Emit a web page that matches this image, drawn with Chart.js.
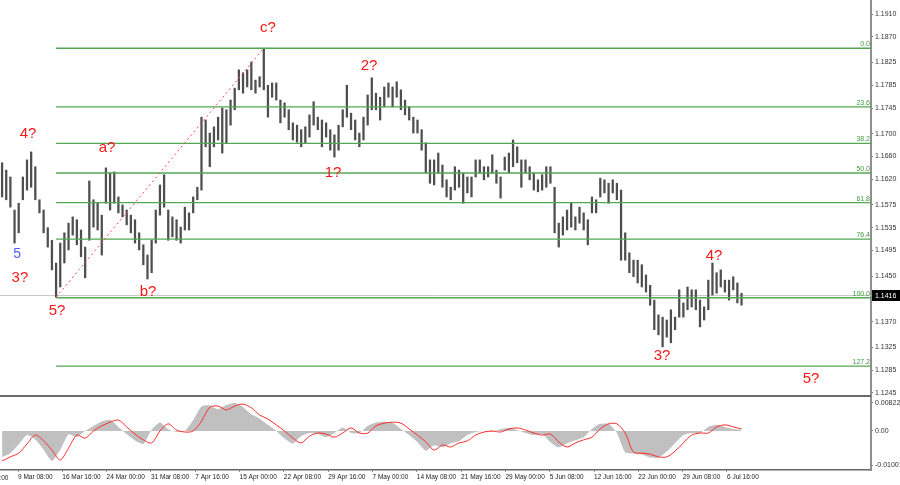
<!DOCTYPE html>
<html><head><meta charset="utf-8">
<script src="https://cdn.jsdelivr.net/npm/chart.js@4/dist/chart.umd.min.js"></script>
<style>
html,body{margin:0;padding:0;background:#fff;}
#wrap{position:relative;width:900px;height:485px;overflow:hidden;background:#fff;}
#c1{position:absolute;left:0;top:0;}
#c2{position:absolute;left:0;top:397px;}
</style></head><body>
<div id="wrap"><canvas id="c1" width="900" height="397"></canvas><canvas id="c2" width="900" height="88"></canvas></div>
<script>
// ---- data (12-hour bars: high / low) ----
const barHighs = [
1.1649,1.1636,1.1624,1.1566,1.1578,1.1624,1.1654,1.1668,1.1642,1.1584,
1.1566,1.1535,1.1513,1.1473,1.1508,1.1526,1.1543,1.1554,1.1549,1.1531,
1.1501,1.1617,1.1584,1.1578,1.1557,1.1640,1.1631,1.1633,1.1589,1.1575,
1.1566,1.1557,1.1549,1.1526,1.1505,1.1487,1.1513,1.1566,1.1610,1.1628,
1.1566,1.1554,1.1549,1.1536,1.1571,1.1561,1.1589,1.1606,1.1729,1.1724,
1.1701,1.1712,1.1729,1.1745,1.1742,1.1759,1.1780,1.1812,1.1807,1.1812,
1.1826,1.1794,1.1800,1.1850,1.1785,1.1789,1.1789,1.1759,1.1754,1.1742,
1.1719,1.1715,1.1707,1.1712,1.1733,1.1756,1.1729,1.1724,1.1719,1.1707,
1.1698,1.1715,1.1742,1.1785,1.1736,1.1724,1.1701,1.1729,1.1768,1.1798,
1.1771,1.1764,1.1782,1.1789,1.1782,1.1791,1.1777,1.1759,1.1747,1.1729,
1.1724,1.1707,1.1684,1.1654,1.1654,1.1666,1.1645,1.1619,1.1606,1.1642,
1.1636,1.1631,1.1624,1.1624,1.1654,1.1654,1.1642,1.1642,1.1663,1.1636,
1.1624,1.1659,1.1666,1.1689,1.1677,1.1654,1.1654,1.1642,1.1631,1.1619,
1.1628,1.1642,1.1642,1.1606,1.1543,1.1554,1.1566,1.1578,1.1554,1.1571,
1.1561,1.1549,1.1589,1.1584,1.1622,1.1619,1.1613,1.1619,1.1613,1.1601,
1.1526,1.1491,1.1478,1.1478,1.1470,1.1452,1.1434,1.1408,1.1382,1.1378,
1.1373,1.1391,1.1378,1.1426,1.1403,1.1431,1.1426,1.1426,1.1408,1.1396,
1.1443,1.1473,1.1456,1.1461,1.1443,1.1443,1.1449,1.1438,1.1420];
const barLows = [
1.1589,1.1584,1.1571,1.1508,1.1526,1.1584,1.1601,1.1606,1.1584,1.1561,
1.1526,1.1501,1.1461,1.1413,1.1431,1.1473,1.1496,1.1522,1.1505,1.1484,
1.1447,1.1513,1.1536,1.1531,1.1487,1.1578,1.1566,1.1578,1.1561,1.1554,
1.1540,1.1526,1.1508,1.1496,1.1470,1.1445,1.1456,1.1508,1.1557,1.1571,
1.1513,1.1519,1.1513,1.1508,1.1531,1.1531,1.1561,1.1584,1.1601,1.1677,
1.1642,1.1677,1.1689,1.1666,1.1684,1.1715,1.1742,1.1777,1.1771,1.1782,
1.1777,1.1771,1.1782,1.1777,1.1729,1.1764,1.1759,1.1719,1.1729,1.1707,
1.1689,1.1685,1.1677,1.1684,1.1694,1.1715,1.1707,1.1677,1.1694,1.1671,
1.1659,1.1671,1.1712,1.1729,1.1707,1.1689,1.1677,1.1689,1.1715,1.1742,
1.1742,1.1724,1.1747,1.1764,1.1747,1.1764,1.1742,1.1733,1.1724,1.1701,
1.1701,1.1671,1.1631,1.1613,1.1610,1.1631,1.1606,1.1589,1.1584,1.1601,
1.1606,1.1578,1.1596,1.1589,1.1624,1.1631,1.1619,1.1624,1.1631,1.1613,
1.1587,1.1636,1.1631,1.1642,1.1649,1.1606,1.1631,1.1619,1.1601,1.1598,
1.1601,1.1606,1.1613,1.1526,1.1501,1.1522,1.1531,1.1536,1.1531,1.1543,
1.1531,1.1505,1.1561,1.1561,1.1589,1.1596,1.1578,1.1596,1.1584,1.1478,
1.1478,1.1456,1.1449,1.1438,1.1431,1.1422,1.1399,1.1356,1.1347,1.1326,
1.1343,1.1333,1.1356,1.1378,1.1378,1.1391,1.1396,1.1391,1.1361,1.1373,
1.1391,1.1417,1.1420,1.1431,1.1422,1.1408,1.1426,1.1403,1.1399];

const priceTicks = [1.1910,1.1870,1.1825,1.1785,1.1745,1.1700,1.1660,1.1620,1.1575,1.1535,1.1495,1.1450,1.1410,1.1370,1.1325,1.1285,1.1245];
const dateLabels = ['2 Mar 16:00','9 Mar 08:00','16 Mar 16:00','24 Mar 00:00','31 Mar 08:00','7 Apr 16:00','15 Apr 00:00','22 Apr 08:00','29 Apr 16:00','7 May 00:00','14 May 08:00','21 May 16:00','29 May 00:00','5 Jun 08:00','12 Jun 16:00','22 Jun 00:00','29 Jun 08:00','6 Jul 16:00'];
const fibLabels = ['0.0','23.6','38.2','50.0','61.8','76.4','100.0','127.2'];
const fibPrices = [1.1850,1.1747,1.1683,1.1631,1.1579,1.1515,1.1412,1.1292];
const waveTexts  = ['4?','3?','5','5?','a?','b?','c?','1?','2?','3?','4?','5?'];
const waveTimes  = [7.2,1.4,-0.7,28.2,64.3,93.9,180.5,227.5,253.5,465.1,502.6,572.7];
const wavePrices = [1.1699,1.1447,1.1489,1.1389,1.1675,1.1422,1.1886,1.1631,1.1819,1.1310,1.1485,1.1269];
const waveColors = ['#f41818','#f41818','#4f5cff','#f41818','#f41818','#f41818','#f41818','#f41818','#f41818','#f41818','#f41818','#f41818'];
const lastPrice = 1.1416;
const oscTicks = [0.00822, 0, -0.01001];
const oscHist = [
-0.0076,-0.0065,-0.0040,-0.0012,-0.0025,-0.0055,-0.0088,-0.0055,-0.0010,-0.0018,
0.0000,0.0015,0.0028,0.0033,0.0012,-0.0009,-0.0028,-0.0038,0.0004,0.0025,
0.0005,-0.0003,0.0000,0.0032,0.0072,0.0075,0.0064,0.0076,0.0082,0.0070,
0.0049,0.0036,0.0018,0.0000,-0.0022,-0.0037,-0.0015,-0.0006,-0.0009,-0.0018,
-0.0006,0.0010,-0.0006,-0.0006,0.0015,0.0025,0.0027,0.0024,0.0006,-0.0012,
-0.0033,-0.0058,-0.0042,-0.0048,-0.0036,-0.0030,-0.0012,-0.0003,0.0000,-0.0003,
0.0006,0.0009,0.0003,-0.0006,-0.0012,-0.0009,-0.0033,-0.0048,-0.0036,-0.0027,
-0.0018,0.0006,0.0021,0.0021,-0.0006,-0.0063,-0.0066,-0.0069,-0.0078,-0.0078,
-0.0060,-0.0036,-0.0012,-0.0006,-0.0006,0.0012,0.0018,0.0012,0.0006,0.0003];
const oscSignal = [
-0.0088,-0.0076,-0.0065,-0.0038,-0.0012,-0.0029,-0.0056,-0.0085,-0.0050,-0.0012,
-0.0021,0.0000,0.0015,0.0026,0.0032,0.0012,-0.0009,-0.0026,-0.0035,0.0000,
0.0021,0.0003,-0.0003,0.0000,0.0029,0.0070,0.0073,0.0062,0.0073,0.0079,
0.0068,0.0047,0.0035,0.0018,0.0000,-0.0021,-0.0035,-0.0015,-0.0006,-0.0009,
-0.0018,-0.0006,0.0009,-0.0006,-0.0006,0.0015,0.0023,0.0026,0.0023,0.0006,
-0.0012,-0.0032,-0.0056,-0.0041,-0.0047,-0.0035,-0.0029,-0.0012,-0.0003,0.0000,
-0.0003,0.0006,0.0009,0.0003,-0.0006,-0.0012,-0.0009,-0.0032,-0.0047,-0.0035,
-0.0026,-0.0018,0.0006,0.0021,0.0021,-0.0006,-0.0062,-0.0065,-0.0068,-0.0076,
-0.0076,-0.0059,-0.0035,-0.0012,-0.0006,-0.0006,0.0012,0.0018,0.0012,0.0006];

// ---- time axis: units = 4-hour periods from 9 Mar 08:00 ----
const X_MIN = -13, X_MAX = 616;
const H4_PER_BAR = 3, FIRST_BAR = -13;
const barX = i => FIRST_BAR + H4_PER_BAR * i + H4_PER_BAR / 2;
const dateX = k => 32 * (k - 1);
const LOW_BAR = 13, HIGH_BAR = 63; // fib anchors (5? low and c? high)

const FONT = '"Liberation Sans", Arial, sans-serif';
const AXIS_W = 29;

const yAxisCommon = {
  position: 'right',
  grid: { drawOnChartArea: false, drawTicks: true, tickLength: 2, color: '#777' },
  border: { display: true, color: '#8e8e8e', width: 2 },
  ticks: { font: { size: 7, family: FONT }, color: '#333', padding: 2, autoSkip: false },
  afterFit(s) { s.width = AXIS_W; s.paddingTop = 0; s.paddingBottom = 0; }
};

const hline = (y0, y1, x0, x1, color, w, dash, order) => ({
  type: 'line', data: [{ x: x0, y: y0 }, { x: x1, y: y1 }],
  borderColor: color, borderWidth: w, borderDash: dash || [], pointRadius: 0, fill: false, order: order
});

const datasets1 = [];
datasets1.push(hline(lastPrice, lastPrice, X_MIN, X_MAX, '#c9c9c9', 1, null, 10));
datasets1.push({
  type: 'bar',
  data: barHighs.map((h, i) => ({ x: barX(i), y: [barLows[i], h] })),
  backgroundColor: '#4e4e4e', barThickness: 1.6, order: 5, grouped: false
});
fibPrices.forEach(p => datasets1.push(hline(p, p, barX(LOW_BAR), X_MAX, '#52a852', 1.4, null, 2)));
datasets1.push(hline(barLows[LOW_BAR], barHighs[HIGH_BAR], barX(LOW_BAR), barX(HIGH_BAR), '#ff4a4a', 1, [2, 3], 1));

const overlay1 = {
  id: 'overlay1',
  afterDatasetsDraw(chart) {
    const { ctx, chartArea: a, scales: { x, y } } = chart;
    ctx.save();
    ctx.font = '7px ' + FONT;
    ctx.fillStyle = '#3f9b3f';
    ctx.textAlign = 'right'; ctx.textBaseline = 'bottom';
    fibLabels.forEach((t, i) => ctx.fillText(t, a.right - 1, y.getPixelForValue(fibPrices[i]) - 0.5));
    ctx.textAlign = 'center'; ctx.textBaseline = 'middle';
    waveTexts.forEach((t, i) => {
      ctx.font = (t === '5' ? '14px ' : '15px ') + FONT;
      ctx.fillStyle = waveColors[i];
      ctx.fillText(t, x.getPixelForValue(waveTimes[i]), y.getPixelForValue(wavePrices[i]));
    });
    ctx.restore();
  },
  afterDraw(chart) {
    const { ctx, chartArea: a, scales: { y } } = chart;
    ctx.save();
    ctx.strokeStyle = '#6a6a6a'; ctx.lineWidth = 2;
    ctx.beginPath(); ctx.moveTo(0, a.bottom - 1); ctx.lineTo(a.right, a.bottom - 1); ctx.stroke();
    const py = Math.round(y.getPixelForValue(lastPrice));
    ctx.fillStyle = '#000';
    ctx.fillRect(a.right + 1, py - 6, chart.width - a.right - 1, 11);
    ctx.fillStyle = '#fff'; ctx.font = '7px ' + FONT;
    ctx.textAlign = 'left'; ctx.textBaseline = 'middle';
    ctx.fillText(lastPrice.toFixed(4), a.right + 4, py);
    ctx.restore();
  }
};

new Chart(document.getElementById('c1'), {
  type: 'bar',
  data: { datasets: datasets1 },
  options: {
    responsive: false, animation: false, devicePixelRatio: 1,
    layout: { padding: 0 },
    plugins: { legend: { display: false }, tooltip: { enabled: false } },
    scales: {
      x: { type: 'linear', min: X_MIN, max: X_MAX, offset: false, display: false },
      y: Object.assign({}, yAxisCommon, {
        type: 'linear', min: 1.12379, max: 1.19346,
        afterBuildTicks(s) { s.ticks = priceTicks.map(v => ({ value: v })); },
        ticks: Object.assign({}, yAxisCommon.ticks, { callback: v => v.toFixed(4) })
      })
    }
  },
  plugins: [overlay1]
});

const overlay2 = {
  id: 'overlay2',
  afterDraw(chart) {
    const { ctx, chartArea: a, scales: { x } } = chart;
    ctx.save();
    ctx.font = '6.5px ' + FONT; ctx.fillStyle = '#222';
    ctx.textAlign = 'left'; ctx.textBaseline = 'middle';
    ctx.fillText(dateLabels[0], x.getPixelForValue(dateX(0)), a.bottom + 8);
    ctx.restore();
  }
};

new Chart(document.getElementById('c2'), {
  type: 'line',
  data: { datasets: [
    { data: oscSignal.map((v, k) => ({ x: barX(2 * k), y: v })), borderColor: '#ff2a2a', borderWidth: 1, pointRadius: 0, fill: false, tension: 0.3, order: 1 },
    { data: oscHist.map((v, k) => ({ x: barX(2 * k), y: v })), borderWidth: 0, borderColor: 'rgba(0,0,0,0)', backgroundColor: '#c0c0c0', pointRadius: 0, fill: 'origin', tension: 0.2, order: 2 }
  ] },
  options: {
    responsive: false, animation: false, devicePixelRatio: 1,
    layout: { padding: 0 },
    plugins: { legend: { display: false }, tooltip: { enabled: false } },
    scales: {
      x: {
        type: 'linear', min: X_MIN, max: X_MAX, offset: false, position: 'bottom',
        afterBuildTicks(s) { s.ticks = dateLabels.slice(1).map((l, k) => ({ value: dateX(k + 1) })); },
        ticks: { autoSkip: false, maxRotation: 0, minRotation: 0, align: 'start', padding: 1,
                 font: { size: 6.5, family: FONT }, color: '#222',
                 callback: (v, i) => dateLabels[i + 1] },
        grid: { drawOnChartArea: false, drawTicks: true, tickLength: 2, color: '#888' },
        border: { display: true, color: '#666', width: 1.5 },
        afterFit(s) { s.height = 15; s.paddingLeft = 0; s.paddingRight = 0; }
      },
      y: Object.assign({}, yAxisCommon, {
        type: 'linear', min: -0.01145, max: 0.00998,
        afterBuildTicks(s) { s.ticks = oscTicks.map(v => ({ value: v })); },
        ticks: Object.assign({}, yAxisCommon.ticks, { callback: v => v === 0 ? '0.00' : v.toFixed(5) })
      })
    }
  },
  plugins: [overlay2]
});
</script>
</body></html>
